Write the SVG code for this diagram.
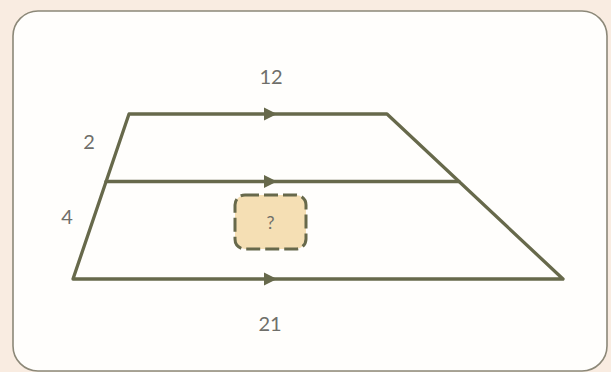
<svg xmlns="http://www.w3.org/2000/svg" width="611" height="372" viewBox="0 0 611 372">
<style>
.ln{stroke:#67694b;stroke-width:3.3;fill:none;stroke-linecap:round;stroke-linejoin:round}
.ah{fill:#67694b}
.lbl{font-family:"Lato","Open Sans","Liberation Sans",sans-serif;font-size:20px;fill:#6f6f6a;text-anchor:middle;dominant-baseline:central}
</style>
<defs>
<path id="arr" d="M-6,-6.5 L7,0 L-6,6.5 Z"/>
</defs>
<rect width="611" height="372" fill="#f9ece1"/>
<rect x="13" y="11" width="594" height="360" rx="25" fill="#fffefc" stroke="#8c8878" stroke-width="1.6"/>
<g id="connectors">
<path class="ln" d="M129,114 L387,114 L563,279 L73,279 Z"/>
<line class="ln" x1="106" y1="181.5" x2="459" y2="181.5"/>
<use href="#arr" class="ah" x="270" y="114"/>
<use href="#arr" class="ah" x="270" y="181.5"/>
<use href="#arr" class="ah" x="270" y="279"/>
</g>
<g id="labels">
<text class="lbl" x="271" y="76">12</text>
<text class="lbl" x="89" y="141">2</text>
<text class="lbl" x="67" y="216">4</text>
<text class="lbl" x="270" y="323">21</text>
</g>
<g id="unknown">
<rect x="235" y="195" width="71" height="54" rx="10" fill="#f5dfb4" stroke="#67694b" stroke-width="3" stroke-dasharray="14 5"/>
<text class="lbl" x="270.5" y="222" style="font-size:18px">?</text>
</g>
</svg>
